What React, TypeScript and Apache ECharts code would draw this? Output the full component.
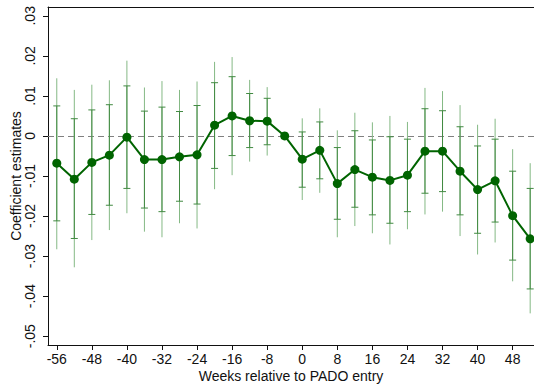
import React, { useEffect, useRef } from "react";
import * as echarts from "echarts";

const weeks = [-56, -52, -48, -44, -40, -36, -32, -28, -24, -20, -16, -12, -8, -4, 0, 4, 8, 12, 16, 20, 24, 28, 32, 36, 40, 44, 48, 52];
const coef = [-0.0068, -0.0108, -0.0066, -0.0048, -0.0003, -0.0059, -0.0059, -0.0052, -0.0047, 0.0027, 0.005, 0.0038, 0.0037, 0.0, -0.0058, -0.0036, -0.0119, -0.0084, -0.0103, -0.0111, -0.0098, -0.0038, -0.0038, -0.0088, -0.0134, -0.0112, -0.0199, -0.0257];
const innerHi = [0.0075, 0.0043, 0.0065, 0.0078, 0.0125, 0.0062, 0.0072, 0.0061, 0.0076, 0.0133, 0.0148, 0.0106, 0.0094, null, 0.001, 0.0035, -0.0029, 0.0013, -0.001, -0.0002, -0.0008, 0.0068, 0.0063, 0.0023, -0.0025, -0.0008, -0.0088, -0.0131];
const innerLo = [-0.0212, -0.0256, -0.0196, -0.0173, -0.0131, -0.018, -0.0189, -0.0163, -0.017, -0.0081, -0.0049, -0.0029, -0.0022, null, -0.0128, -0.0107, -0.0208, -0.0178, -0.0197, -0.0218, -0.0189, -0.0143, -0.0139, -0.0197, -0.0243, -0.0215, -0.031, -0.0382];
const outerHi = [0.0144, 0.0115, 0.0128, 0.0139, 0.0188, 0.0121, 0.0137, 0.0115, 0.0136, 0.0185, 0.0197, 0.014, 0.0122, null, 0.0044, 0.0069, 0.0014, 0.0058, 0.0034, 0.005, 0.0035, 0.012, 0.0112, 0.0077, 0.0028, 0.0043, -0.0033, -0.0068];
const outerLo = [-0.0283, -0.0328, -0.026, -0.0235, -0.0193, -0.0239, -0.0253, -0.0218, -0.0231, -0.0133, -0.0098, -0.0064, -0.0049, null, -0.016, -0.0142, -0.0253, -0.0225, -0.0243, -0.0271, -0.0233, -0.0196, -0.0189, -0.025, -0.0296, -0.0266, -0.0363, -0.0443];

const xTicks = [-56, -48, -40, -32, -24, -16, -8, 0, 8, 16, 24, 32, 40, 48];
const yTicks = [-0.05, -0.04, -0.03, -0.02, -0.01, 0, 0.01, 0.02, 0.03];

const FONT = "'Liberation Sans', Arial, Helvetica, sans-serif";

function fmtY(v: number) {
  if (Math.abs(v) < 1e-9) return "0";
  const s = Math.abs(v).toFixed(2).replace(/^0/, "");
  return (v < 0 ? "-" : "") + s;
}

export default function App() {
  const ref = useRef<HTMLDivElement>(null);
  useEffect(() => {
    if (!ref.current) return;
    const chart = echarts.init(ref.current, null, { renderer: "svg" });
    const outerData = weeks
      .map((w, i) => [w, outerLo[i], outerHi[i]])
      .filter((d) => d[1] != null && d[2] != null);
    const innerData = weeks
      .map((w, i) => [w, innerLo[i], innerHi[i]])
      .filter((d) => d[1] != null && d[2] != null);
    const lineData = weeks.map((w, i) => [w, coef[i]]);

    chart.setOption({
      animation: false,
      backgroundColor: "#ffffff",
      grid: { left: 48, top: 7, right: 0, bottom: 40, containLabel: false, outerBoundsMode: "none" },
      xAxis: [
        {
          type: "value",
          min: -58,
          max: 52.87,
          position: "bottom",
          name: "Weeks relative to PADO entry",
          nameLocation: "middle",
          nameGap: 24,
          nameMoveOverlap: false,
          nameTextStyle: { fontFamily: FONT, fontSize: 14, lineHeight: 14, color: "#111" },
          axisLine: { show: true, onZero: false, lineStyle: { color: "#111", width: 1 } },
          axisTick: { show: true, length: 5, customValues: xTicks, lineStyle: { color: "#111" } },
          axisLabel: {
            customValues: xTicks,
            fontFamily: FONT,
            fontSize: 14,
            lineHeight: 14,
            color: "#111",
            margin: 7,
          },
          splitLine: { show: false },
        },
        {
          type: "value",
          position: "top",
          min: -58,
          max: 52.87,
          axisLine: { show: true, onZero: false, lineStyle: { color: "#111", width: 1 } },
          axisTick: { show: false },
          axisLabel: { show: false },
          splitLine: { show: false },
        },
      ],
      yAxis: {
        type: "value",
        min: -0.0522,
        max: 0.0322,
        position: "left",
        name: "Coefficient estimates",
        nameLocation: "middle",
        nameGap: 25,
        nameMoveOverlap: false,
        nameRotate: 90,
        nameTextStyle: { fontFamily: FONT, fontSize: 14, lineHeight: 14, color: "#111" },
        axisLine: { show: true, onZero: false, lineStyle: { color: "#111", width: 1 } },
        axisTick: { show: true, length: 5, customValues: yTicks, lineStyle: { color: "#111" } },
        axisLabel: {
          customValues: yTicks,
          rotate: 90,
          fontFamily: FONT,
          fontSize: 14,
          lineHeight: 14,
          color: "#111",
          margin: 11,
          formatter: (v: number) => fmtY(v),
        },
        splitLine: { show: false },
      },
      series: [
        {
          type: "custom",
          z: 2,
          data: outerData,
          renderItem: (params: any, api: any) => {
            const x = api.value(0);
            const p1 = api.coord([x, api.value(1)]);
            const p2 = api.coord([x, api.value(2)]);
            return {
              type: "line",
              shape: { x1: p1[0], y1: p1[1], x2: p2[0], y2: p2[1] },
              style: { stroke: "#85b985", lineWidth: 1 },
            };
          },
        },
        {
          type: "custom",
          z: 3,
          data: innerData,
          renderItem: (params: any, api: any) => {
            const x = api.value(0);
            const p1 = api.coord([x, api.value(1)]);
            const p2 = api.coord([x, api.value(2)]);
            const st = { stroke: "#428a42", lineWidth: 1 };
            const cw = 3.5;
            return {
              type: "group",
              children: [
                { type: "line", shape: { x1: p1[0], y1: p1[1], x2: p2[0], y2: p2[1] }, style: st },
                { type: "line", shape: { x1: p1[0] - cw, y1: p1[1], x2: p1[0] + cw, y2: p1[1] }, style: st },
                { type: "line", shape: { x1: p2[0] - cw, y1: p2[1], x2: p2[0] + cw, y2: p2[1] }, style: st },
              ],
            };
          },
        },
        {
          type: "line",
          z: 5,
          data: lineData,
          symbol: "circle",
          symbolSize: 9,
          showSymbol: true,
          itemStyle: { color: "#006400" },
          lineStyle: { color: "#006400", width: 2 },
          markLine: {
            silent: true,
            symbol: ["none", "none"],
            label: { show: false },
            z: 1,
            lineStyle: { color: "#808080", type: [6, 4], width: 1.2 },
            data: [{ yAxis: 0 }],
          },
        },
      ],
    });
    return () => chart.dispose();
  }, []);
  return <div ref={ref} style={{ width: 534, height: 385, position: "absolute", left: 0, top: 0 }} />;
}
